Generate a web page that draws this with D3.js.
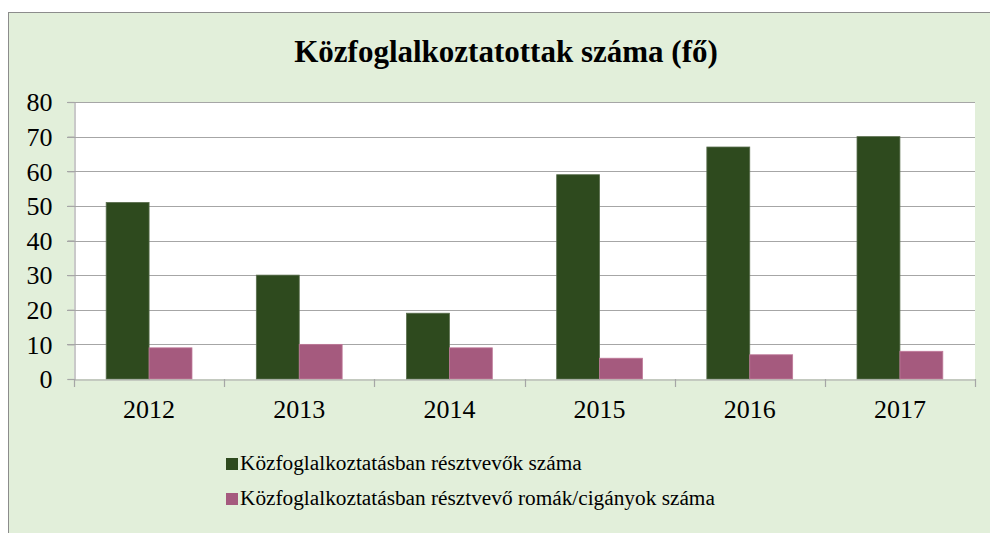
<!DOCTYPE html>
<html><head><meta charset="utf-8">
<script src="https://cdn.jsdelivr.net/npm/d3@7"></script>
<style>body{margin:0;background:#fff}svg{display:block}text{font-family:"Liberation Serif","Times New Roman",serif}</style>
</head><body>
<svg id="c" width="990" height="533"></svg>
<script>
const title = "Közfoglalkoztatottak száma (fő)";
const categories = ["2012","2013","2014","2015","2016","2017"];
const seriesNames = ["Közfoglalkoztatásban résztvevők száma","Közfoglalkoztatásban résztvevő romák/cigányok száma"];
const participants = [51,30,19,59,67,70];
const roma = [9,10,9,6,7,8];
const yTicks = [0,10,20,30,40,50,60,70,80];
const colors = ["#2E4A1E","#A55A7E"];

const svg = d3.select("#c");
svg.append("rect").attr("x",8.5).attr("y",12.5).attr("width",1000).attr("height",600)
  .attr("fill","#E2EFDA").attr("stroke","#8c8c8c").attr("stroke-width",1);

const m = {l:74, r:975, t:102, b:379};
const x = d3.scaleBand().domain(categories).range([m.l,m.r]).paddingInner(0).paddingOuter(0);
const y = d3.scaleLinear().domain([0,80]).range([m.b,m.t]);

svg.append("rect").attr("x",m.l).attr("y",m.t).attr("width",m.r-m.l).attr("height",m.b-m.t).attr("fill","#fff");

// gridlines
svg.append("g").selectAll("line").data(yTicks.filter(d=>d>0)).join("line")
  .attr("x1",m.l-7).attr("x2",m.r).attr("y1",d=>Math.round(y(d))+0.5).attr("y2",d=>Math.round(y(d))+0.5)
  .attr("stroke","#a6a6a6").attr("stroke-width",1.2);

const sub = d3.scaleBand().domain([0,1]).range([0,x.bandwidth()]).paddingOuter(0.75).paddingInner(0);
const data = [participants, roma];
data.forEach((vals,si)=>{
  svg.append("g").selectAll("rect").data(vals).join("rect")
    .attr("x",(d,i)=>x(categories[i])+sub(si))
    .attr("width",sub.bandwidth())
    .attr("y",d=>y(d)).attr("height",d=>y(0)-y(d))
    .attr("fill",colors[si]).attr("stroke",si? "#c07a9a":"#5a6e4e").attr("stroke-width",0.8);
});

// y axis
const ya = svg.append("g").attr("transform",`translate(${m.l+0.5},0)`)
  .call(d3.axisLeft(y).tickValues(yTicks).tickSize(7).tickPadding(15).tickFormat(d3.format("d")));
ya.attr("font-size",26).attr("font-family","Liberation Serif");
ya.select(".domain").attr("stroke","#a6a6a6").attr("stroke-width",1.2);
ya.selectAll(".tick line").attr("stroke","#a6a6a6").attr("stroke-width",1.2);
ya.selectAll("text").attr("fill","#000").attr("dy","0.34em");

// x axis
const xa = svg.append("g").attr("transform",`translate(0,${Math.round(y(0))+0.5})`)
  .call(d3.axisBottom(x).tickSize(0).tickPadding(20));
xa.attr("font-size",26).attr("font-family","Liberation Serif");
xa.select(".domain").attr("stroke","#a6a6a6").attr("stroke-width",1.2);
xa.selectAll("text").attr("fill","#000");
const bounds = categories.map(c=>x(c)).concat([x(categories[categories.length-1])+x.bandwidth()]);
svg.append("g").selectAll("line").data(bounds).join("line")
  .attr("x1",d=>Math.round(d)+0.5).attr("x2",d=>Math.round(d)+0.5)
  .attr("y1",Math.round(y(0))).attr("y2",Math.round(y(0))+8)
  .attr("stroke","#a6a6a6").attr("stroke-width",1.2);

// title
svg.append("text").attr("x",506).attr("y",62).attr("text-anchor","middle")
  .attr("font-size",31).attr("font-weight","bold").attr("fill","#000").text(title);

// legend
const lg = svg.append("g").selectAll("g").data(seriesNames).join("g")
  .attr("transform",(d,i)=>`translate(226,${458+i*35})`);
lg.append("rect").attr("width",12).attr("height",12).attr("fill",(d,i)=>colors[i]);
lg.append("text").attr("x",14).attr("y",12).attr("font-size",21.3).attr("fill","#000").text(d=>d);
</script>
</body></html>
